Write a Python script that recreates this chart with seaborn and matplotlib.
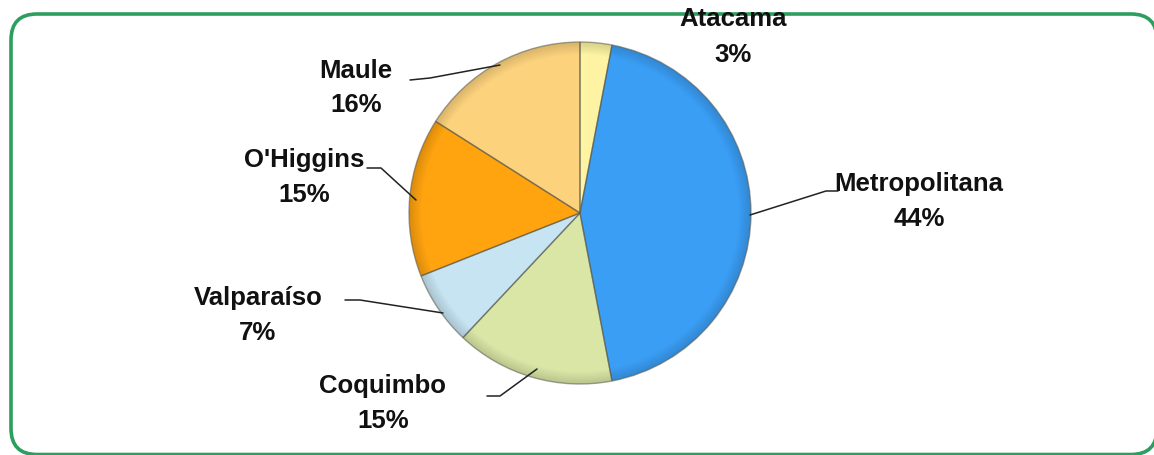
import matplotlib
matplotlib.use("Agg")
import matplotlib.pyplot as plt
import seaborn as sns
import numpy as np
from matplotlib.patches import FancyBboxPatch
from matplotlib.colors import to_rgb

sns.set_theme(style="white")
plt.rcParams["font.family"] = ["Liberation Sans", "DejaVu Sans"]

regions = ["Atacama", "Metropolitana", "Coquimbo", "Valparaíso", "O'Higgins", "Maule"]
shares = [3, 44, 15, 7, 15, 16]
colors = ["#FDF3A2", "#3A9EF5", "#D9E6A6", "#C6E4F2", "#FFA30F", "#FCD27C"]

W, H = 1154, 455
fig = plt.figure(figsize=(W / 100, H / 100), dpi=100)
ax = fig.add_axes([0, 0, 1, 1])

# rounded green frame (pixel coords, y measured from the bottom); right and
# bottom edges run to the border of the canvas
frame = FancyBboxPatch((11, 0.5), 1146, 440.5,
                       boxstyle="round,pad=0,rounding_size=26",
                       fc="white", ec="#2E9E5E", lw=2.6, zorder=0)
ax.add_patch(frame)

cx, cy, R = 580, H - 213, 171

def shade(c, f):
    r = np.array(to_rgb(c))
    return tuple(np.clip(r * f, 0, 1))

# rim shading: darker outer ring blending into base colour
steps = 10
for i in range(steps):
    rad = R * (1 - 0.07 * i / steps)
    f = 0.86 + 0.14 * i / steps
    ax.pie(shares, colors=[shade(c, f) for c in colors], startangle=90,
           counterclock=False, radius=rad, center=(cx, cy), frame=True,
           wedgeprops=dict(linewidth=0))
ax.pie(shares, colors=colors, startangle=90, counterclock=False,
       radius=R * 0.93, center=(cx, cy), frame=True,
       wedgeprops=dict(linewidth=0))
# thin separators between slices
ax.pie(shares, colors=["none"] * len(shares), startangle=90, counterclock=False,
       radius=R, center=(cx, cy), frame=True,
       wedgeprops=dict(linewidth=1.0, edgecolor=(0.35, 0.35, 0.3, 0.55)))
ax.set_xlim(0, W)
ax.set_ylim(0, H)
ax.set_aspect("equal")
ax.axis("off")

# name-line centre of each label and its leader line, in pixel coords from the top
labels = {
    "Atacama": ((733, 17), None),
    "Metropolitana": ((919, 181), [(750, 215), (826, 191), (838, 191)]),
    "Maule": ((356, 68), [(500, 65), (430, 78), (410, 80)]),
    "O'Higgins": ((304, 158), [(367, 168), (381, 168), (416, 200)]),
    "Valparaíso": ((258, 295), [(345, 300), (360, 300), (443, 313)]),
    "Coquimbo": ((383, 383), [(487, 396), (500, 396), (537, 369)]),
}

for name, val in zip(regions, shares):
    (tx, ty), line = labels[name]
    for txt, dy in ((name, 0), (f"{val}%", 35)):
        ax.text(tx, H - ty - dy, txt, ha="center", va="center_baseline",
                fontsize=18.5, fontweight="bold", color="#111111")
    if line:
        xs = [p[0] for p in line]
        ys = [H - p[1] for p in line]
        ax.plot(xs, ys, color="#222222", lw=1.1, zorder=5)

fig.savefig("out.png", dpi=100)
